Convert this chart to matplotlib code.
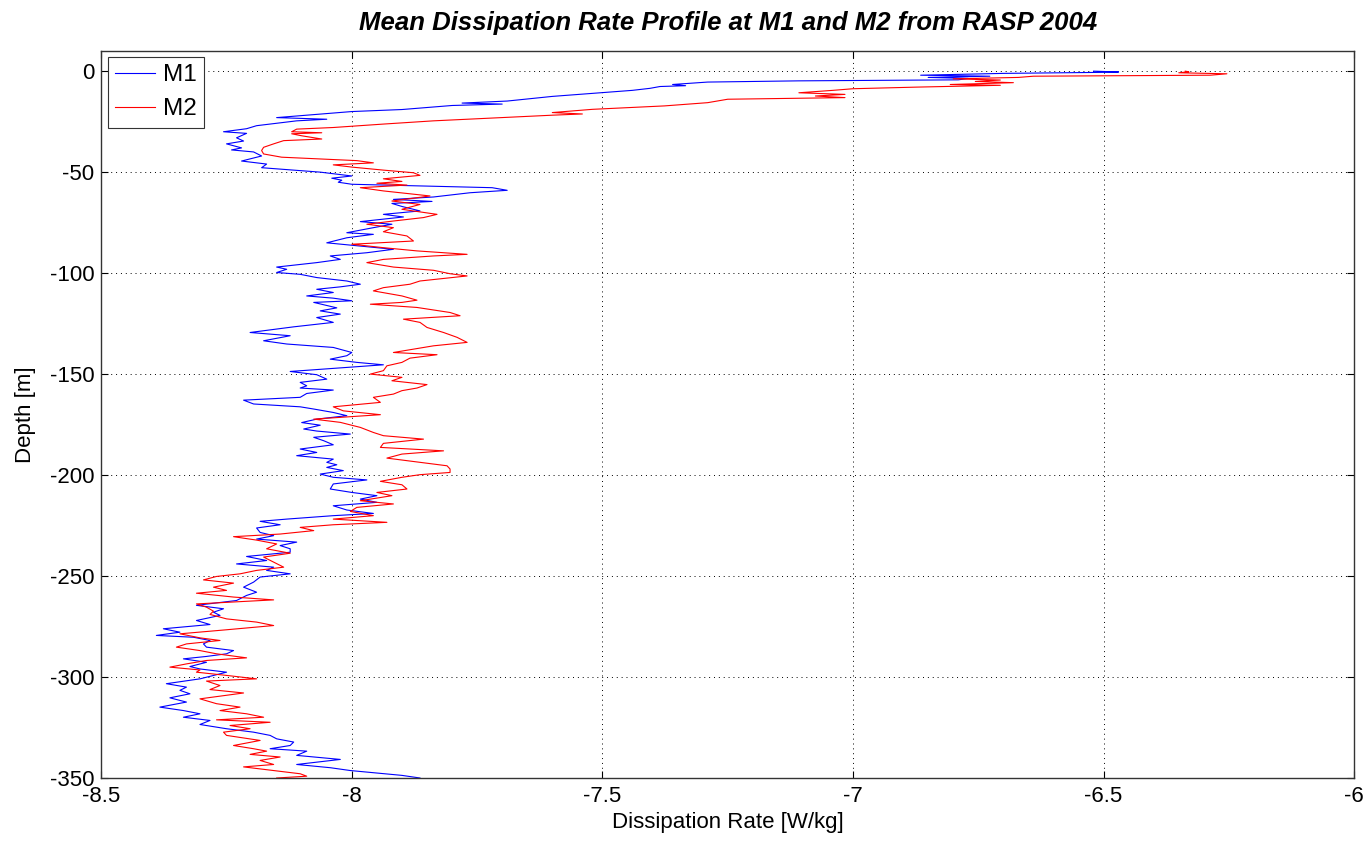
import matplotlib
matplotlib.use("Agg")
import matplotlib.pyplot as plt

plt.rcParams['font.family'] = ['Liberation Sans', 'DejaVu Sans']

# M1 剖面 (深度 m, 耗散率 log10 W/kg)
m1_depth = [0, -0.4, -0.6, -1.1, -2.0, -2.5, -3.1, -3.6, -4.3, -4.8, -5.4, -6.6, -7.2, -7.6, -8.5,
            -9.5, -10.7, -12.5, -14.8, -15.8, -16.3, -17, -19, -20, -22, -23, -23.8, -24.6, -27,
            -28.5, -30, -30.8, -33, -34.6, -36, -38, -39, -40, -42, -44.5, -46, -47.8, -49, -50,
            -51.9, -53, -54, -55, -56, -57.7, -59, -60.2, -62.3, -63.5, -64.5, -65.5, -67, -69.2,
            -70.9, -72.2, -74.5, -75.8, -77.5, -80, -80.8, -82.5, -85, -86.6, -88.2, -89.9, -91.5,
            -93.2, -94.8, -97, -98.1, -99.7, -100.6, -102.2, -103.9, -105.5, -106.8, -108, -109.6,
            -111.3, -112.4, -113.7, -114.5, -117.2, -118.7, -120.3, -122, -124.4, -126.6, -129.4,
            -131, -133.5, -135.1, -136.8, -139.3, -140.9, -142.6, -144.2, -145.4, -146.7, -148.7,
            -150.3, -152.5, -154.1, -155.8, -156.9, -157.9, -159.6, -161.5, -162.9, -164.8, -166.2,
            -167.3, -169, -170.6, -172.3, -174, -175.3, -177.2, -178.2, -179.7, -181.3, -183, -185,
            -187.1, -188.8, -190.4, -192.1, -193.7, -194.9, -196.2, -197.8, -199.5, -201.1, -202.4,
            -204.4, -206.9, -208.6, -210.2, -211.9, -213.5, -215.2, -217.3, -219, -220.1, -221.8,
            -222.9, -224.6, -226.2, -228.4, -230, -231.7, -233.2, -234.9, -236.5, -238.2, -240.3,
            -242.3, -244, -245.6, -247.2, -248.9, -250.5, -253, -255.5, -258, -259.6, -262.1,
            -264.5, -266.2, -267.9, -269.5, -272, -274, -276.1, -277.8, -279.4, -280.3, -281.9,
            -283.6, -285.2, -286.9, -288.5, -289.8, -291, -292.7, -294.8, -296, -297.6, -299.2,
            -300.9, -303.3, -305, -306.6, -308.3, -310.3, -312.4, -314.9, -316.6, -318.2, -319.9,
            -321.5, -323.5, -325.6, -327.3, -328.9, -330.6, -332.2, -333.9, -335.5, -336.7, -338.8,
            -340.8, -343.3, -344.9, -346.3, -348.7, -350]
m1_eps = [-6.52, -6.47, -6.505, -6.70, -6.865, -6.727, -6.85, -6.77, -6.79, -7.108, -7.29, -7.36,
          -7.334, -7.385, -7.405, -7.44, -7.505, -7.60, -7.69, -7.78, -7.70, -7.80, -7.90, -8.0,
          -8.10, -8.15, -8.05, -8.11, -8.19, -8.21, -8.256, -8.21, -8.23, -8.216, -8.25, -8.22,
          -8.24, -8.196, -8.18, -8.22, -8.17, -8.18, -8.116, -8.063, -8.0, -8.04, -8.02, -8.027,
          -8.0, -7.72, -7.69, -7.764, -7.837, -7.917, -7.84, -7.92, -7.90, -7.864, -7.937, -7.897,
          -7.983, -7.92, -7.957, -8.01, -7.957, -8.01, -8.05, -7.983, -7.917, -7.97, -8.043,
          -8.023, -8.07, -8.15, -8.13, -8.15, -8.103, -8.07, -8.01, -7.983, -8.023, -8.07, -8.037,
          -8.09, -8.037, -8.0, -8.076, -8.03, -8.063, -8.023, -8.07, -8.037, -8.116, -8.203,
          -8.123, -8.176, -8.13, -8.037, -8.0, -8.01, -8.043, -7.99, -7.937, -8.01, -8.123,
          -8.07, -8.05, -8.103, -8.09, -8.103, -8.037, -8.09, -8.103, -8.216, -8.196, -8.103,
          -8.076, -8.037, -8.01, -8.07, -8.10, -8.063, -8.096, -8.07, -8.003, -8.076, -8.056,
          -8.037, -8.103, -8.07, -8.11, -8.037, -8.05, -8.03, -8.05, -8.017, -8.063, -8.037,
          -7.97, -8.037, -8.043, -8.0, -7.95, -7.983, -7.95, -8.037, -8.01, -7.957, -8.037, -8.13,
          -8.183, -8.143, -8.19, -8.183, -8.156, -8.19, -8.11, -8.143, -8.123, -8.123, -8.21,
          -8.17, -8.23, -8.156, -8.17, -8.123, -8.183, -8.196, -8.216, -8.19, -8.21, -8.23, -8.31,
          -8.256, -8.276, -8.263, -8.31, -8.283, -8.376, -8.343, -8.39, -8.316, -8.283, -8.296,
          -8.29, -8.236, -8.25, -8.29, -8.336, -8.29, -8.323, -8.303, -8.25, -8.276, -8.303,
          -8.37, -8.33, -8.343, -8.323, -8.363, -8.33, -8.383, -8.336, -8.303, -8.336, -8.283,
          -8.303, -8.25, -8.196, -8.163, -8.15, -8.116, -8.123, -8.163, -8.09, -8.11, -8.023,
          -8.11, -8.043, -8.003, -7.90, -7.864]

# M2 剖面
m2_depth = [0, -0.3, -0.8, -1.3, -2.0, -2.5, -3.1, -3.8, -4.4, -5.1, -5.7, -6.6, -7.0, -7.9, -8.7,
            -9.5, -10.7, -11.5, -12.3, -13.1, -13.9, -15.6, -17.2, -18.9, -20.5, -21.2, -21.8, -23,
            -24.6, -26.2, -27.9, -28.7, -30, -30.5, -31, -32, -33.6, -34.4, -36, -37.7, -39.3, -41,
            -42.6, -44.3, -45.4, -46.4, -47.5, -49, -50.3, -51.6, -53.3, -54.6, -55.5, -56.4,
            -57.7, -59.3, -61.8, -64.3, -66, -68.4, -70.9, -72.5, -74.2, -75.8, -77.5, -79.5,
            -81.6, -84.1, -85.7, -87.4, -89, -90.7, -91.5, -93.2, -94.8, -97, -98.6, -100.3,
            -101.4, -103.9, -105.5, -107.2, -108.8, -111.3, -113.4, -114.5, -115.4, -117, -119.5,
            -121.1, -122.8, -124.4, -126.9, -129.4, -131.8, -134.3, -136, -139.3, -140.4, -142.1,
            -144.2, -145.9, -148.3, -150, -151.6, -153.3, -155.2, -156.9, -158.2, -159.9, -161.5,
            -164, -166.2, -168.2, -170.1, -172.3, -173.9, -176.4, -178.9, -180.5, -182.2, -184.3,
            -186.3, -188, -189.6, -191.6, -193.7, -195.4, -197, -198.7, -199.8, -201.1, -203.1,
            -204.8, -206.9, -208.6, -210.2, -212.7, -214.3, -216, -218, -220.1, -221.8, -223.4,
            -224.6, -225.9, -227.5, -229.2, -230.5, -232.2, -234.1, -236.5, -238.7, -240.6, -243.1,
            -245.6, -247.2, -248.9, -250.2, -251.9, -253.5, -255.5, -257.1, -258.5, -260.4, -261.8,
            -263.8, -265.4, -267.4, -269, -271.2, -272.8, -274.5, -276.6, -278.6, -280.6, -281.9,
            -283.6, -285.2, -286.9, -288.5, -290.5, -291.8, -293.5, -295.1, -296.5, -297.6, -299.2,
            -300.9, -302, -304.2, -306.2, -307.9, -310.8, -313.2, -314.9, -316.6, -318.2, -319.9,
            -321.2, -322.4, -324, -325.6, -327.3, -328.9, -331.4, -333.9, -335.5, -336.7, -338.3,
            -339.6, -341.3, -343.3, -344.5, -346.5, -347.9, -349.1, -350]
m2_eps = [-6.337, -6.33, -6.35, -6.254, -6.287, -6.64, -6.67, -6.80, -6.706, -6.756, -6.68, -6.806,
          -6.706, -6.873, -7.0, -7.04, -7.108, -7.016, -7.075, -7.016, -7.25, -7.29, -7.376, -7.52,
          -7.60, -7.54, -7.60, -7.70, -7.837, -7.937, -8.037, -8.11, -8.12, -8.06, -8.12, -8.10,
          -8.06, -8.136, -8.156, -8.176, -8.18, -8.176, -8.14, -7.99, -7.957, -8.037, -8.0,
          -7.937, -7.877, -7.864, -7.937, -7.90, -7.95, -7.89, -7.983, -7.937, -7.844, -7.92,
          -7.864, -7.90, -7.83, -7.857, -7.917, -7.97, -7.917, -7.937, -7.89, -7.877, -8.0,
          -7.937, -7.87, -7.77, -7.837, -7.937, -7.97, -7.917, -7.837, -7.804, -7.77, -7.864,
          -7.884, -7.937, -7.957, -7.90, -7.87, -7.90, -7.963, -7.87, -7.804, -7.784, -7.897,
          -7.864, -7.85, -7.817, -7.79, -7.77, -7.837, -7.917, -7.83, -7.884, -7.90, -7.93,
          -7.937, -7.963, -7.90, -7.92, -7.85, -7.87, -7.90, -7.917, -7.957, -7.943, -8.037,
          -8.017, -7.943, -8.076, -8.023, -7.983, -7.957, -7.937, -7.857, -7.937, -7.943, -7.817,
          -7.90, -7.93, -7.864, -7.81, -7.804, -7.804, -7.864, -7.90, -7.943, -7.90, -7.89, -7.95,
          -7.92, -7.983, -7.917, -7.99, -8.003, -7.957, -8.037, -7.93, -8.037, -8.103, -8.076,
          -8.143, -8.236, -8.19, -8.15, -8.17, -8.123, -8.176, -8.156, -8.136, -8.19, -8.223,
          -8.27, -8.296, -8.236, -8.276, -8.25, -8.31, -8.236, -8.156, -8.31, -8.29, -8.276,
          -8.283, -8.25, -8.19, -8.156, -8.25, -8.343, -8.303, -8.263, -8.33, -8.35, -8.303,
          -8.27, -8.21, -8.29, -8.33, -8.363, -8.303, -8.31, -8.25, -8.19, -8.29, -8.263, -8.283,
          -8.216, -8.303, -8.27, -8.223, -8.263, -8.21, -8.176, -8.27, -8.163, -8.243, -8.203,
          -8.256, -8.25, -8.183, -8.236, -8.196, -8.17, -8.203, -8.143, -8.183, -8.156, -8.216,
          -8.15, -8.103, -8.09, -8.15]

x_ticks = [-8.5, -8, -7.5, -7, -6.5, -6]
y_ticks = [-350, -300, -250, -200, -150, -100, -50, 0]

fig = plt.figure(figsize=(13.68, 8.41), dpi=100)
ax = fig.add_axes([0.074, 0.0749, 0.9159, 0.8645])

ax.plot(m1_eps, m1_depth, color='#0000ff', lw=0.8, label='M1')
ax.plot(m2_eps, m2_depth, color='#ff0000', lw=0.8, label='M2')

ax.set_xlim(-8.5, -6)
ax.set_ylim(-350, 10)
ax.set_xticks(x_ticks)
ax.set_xticklabels(['-8.5', '-8', '-7.5', '-7', '-6.5', '-6'])
ax.set_yticks(y_ticks)
ax.set_yticklabels([str(v) for v in y_ticks])

# matlab 风格的网格和刻度
ax.grid(True, color='k', linestyle=(0, (1, 4)), lw=0.7)
ax.tick_params(direction='in', top=True, right=True, length=5, width=0.8,
               labelsize=16, pad=5)
ax.tick_params(axis='x', pad=6)
for s in ax.spines.values():
    s.set_color('#333333')
    s.set_linewidth(1)

ax.set_title('Mean Dissipation Rate Profile at M1 and M2 from RASP 2004',
             fontsize=18.5, fontweight='bold', style='italic', pad=15)
ax.set_xlabel('Dissipation Rate [W/kg]', fontsize=16)
ax.set_ylabel('Depth [m]', fontsize=16)
ax.xaxis.set_label_coords(0.5, -0.047)
ax.yaxis.set_label_coords(-0.052, 0.5)

leg = ax.legend(loc='upper left', bbox_to_anchor=(0.0054, 0.9917), borderaxespad=0,
                fontsize=17.5, fancybox=False, framealpha=1, handlelength=1.65,
                handletextpad=0.3, borderpad=0.3, labelspacing=0.5)
leg.get_frame().set_edgecolor('#333333')
leg.get_frame().set_linewidth(0.8)

plt.savefig('out.png', dpi=100)
